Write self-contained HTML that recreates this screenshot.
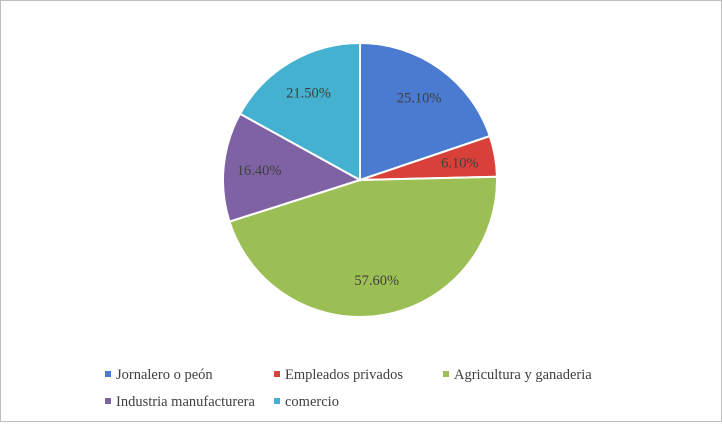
<!DOCTYPE html>
<html><head><meta charset="utf-8"><style>
body{margin:0;background:#fff}
#c{position:relative;width:722px;height:422px;box-sizing:border-box;border:1px solid #bfbfbf;background:#fff;font-family:"Liberation Serif",serif}
svg text{font-family:"Liberation Serif",serif;font-size:14.5px;fill:#404040}
</style></head><body>
<div id="c">
<svg id="s" width="720" height="420"></svg>
</div>
<script>
const categories=["Jornalero o peón","Empleados privados","Agricultura y ganaderia","Industria manufacturera","comercio"];
const values=[25.1,6.1,57.6,16.4,21.5];
const labels=["25.10%","6.10%","57.60%","16.40%","21.50%"];
const colors=["#4a7bd0","#d9403a","#9cbf55","#7f62a3","#43b1cf"];
const NS="http://www.w3.org/2000/svg";
const s=document.getElementById('s');
const cx=359,cy=179,R=137;
const tot=values.reduce((a,b)=>a+b,0);
let a0=0;
function pt(a,r){return [cx+r*Math.sin(a),cy-r*Math.cos(a)];}
values.forEach((v,i)=>{
  const a1=a0+v/tot*2*Math.PI;
  const p0=pt(a0,R),p1=pt(a1,R);
  const large=(a1-a0)>Math.PI?1:0;
  const p=document.createElementNS(NS,'path');
  p.setAttribute('d',`M${cx},${cy} L${p0[0]},${p0[1]} A${R},${R} 0 ${large} 1 ${p1[0]},${p1[1]} Z`);
  p.setAttribute('fill',colors[i]);p.setAttribute('stroke','#fff');p.setAttribute('stroke-width','2');
  
  
  s.appendChild(p);
  const am=(a0+a1)/2;const lp=pt(am,R*0.74);
  const t=document.createElementNS(NS,'text');
  t.setAttribute('x',lp[0]);t.setAttribute('y',lp[1]+5);t.setAttribute('text-anchor','middle');
  t.textContent=labels[i];
  
  
  s.appendChild(t);
  a0=a1;
});
const lpos=[[107,373],[276,373],[445,373],[107,400],[276,400]];
categories.forEach((c,i)=>{
  const [x,y]=lpos[i];
  const g=document.createElementNS(NS,'g');
  
  
  const r=document.createElementNS(NS,'rect');
  r.setAttribute('x',x-3);r.setAttribute('y',y-3);r.setAttribute('width',6);r.setAttribute('height',6);r.setAttribute('fill',colors[i]);
  g.appendChild(r);
  const t=document.createElementNS(NS,'text');
  t.setAttribute('x',x+8);t.setAttribute('y',y+5);t.textContent=c;
  g.appendChild(t);
  s.appendChild(g);
});
</script>
</body></html>
